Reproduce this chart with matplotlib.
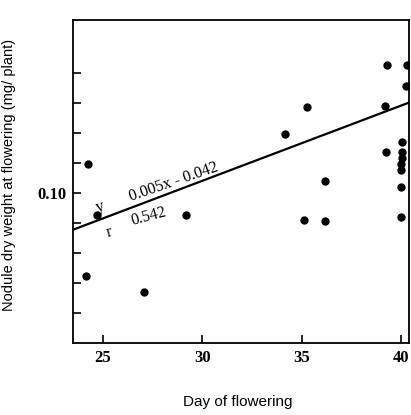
import matplotlib
matplotlib.use("Agg")
import matplotlib.pyplot as plt
import numpy as np

day = [24.25, 24.7, 24.15, 27.05, 29.2, 34.15, 35.25, 35.1, 36.15, 36.15,
       39.3, 40.3, 40.25, 39.2, 39.25, 40.05, 40.05, 40.05, 40.0, 40.0, 40.0, 40.0]
weight = [0.119, 0.085, 0.045, 0.034, 0.085, 0.139, 0.157, 0.082, 0.108, 0.081,
          0.185, 0.185, 0.171, 0.158, 0.127, 0.134, 0.127, 0.123, 0.119, 0.115, 0.104, 0.084]
slope, intercept = 0.005, -0.042
xticks = [25, 30, 35, 40]
yticks = [0.02, 0.04, 0.06, 0.08, 0.10, 0.12, 0.14, 0.16, 0.18]
ytick_labels = ["", "", "", "", "0.10", "", "", "", ""]

fig = plt.figure(figsize=(4.11, 4.15), dpi=100)
ax = fig.add_axes([0.178, 0.173, 0.817, 0.779])
xlim = (23.5, 40.4)
ax.set_xlim(*xlim)
ax.set_ylim(0.0, 0.215)

ax.scatter(day, weight, s=36, color="black", zorder=3, linewidths=0)
xl = np.array(xlim)
ax.plot(xl, slope * xl + intercept, color="black", lw=1.6)

ax.set_xticks(xticks)
ax.set_xticklabels([str(t) for t in xticks], fontfamily="Liberation Serif",
                   fontweight="bold", fontsize=12)
ax.set_yticks(yticks)
ax.set_yticklabels(ytick_labels, fontfamily="Liberation Serif",
                   fontweight="bold", fontsize=12)
ax.tick_params(direction="in", length=6, width=1.2, pad=5)
for s in ax.spines.values():
    s.set_linewidth(1.3)

ax.text(24.55, 0.0875, "y", fontsize=11.5, rotation=18, family="Liberation Serif")
ax.text(26.2, 0.095, "0.005x - 0.042", fontsize=11.5, rotation=19,
        family="Liberation Serif")
ax.text(25.1, 0.071, "r", fontsize=11.5, rotation=15, family="Liberation Serif")
ax.text(26.3, 0.0785, "0.542", fontsize=11.5, rotation=15, family="Liberation Serif")

ax.set_xlabel("Day of flowering", fontsize=11, family="Liberation Sans")
ax.xaxis.set_label_coords(0.49, -0.16)
ax.set_ylabel("Nodule dry weight at flowering (mg/ plant)", fontsize=10.5,
              family="Liberation Sans")
ax.yaxis.set_label_coords(-0.17, 0.52)

fig.savefig("out.png", dpi=100)
